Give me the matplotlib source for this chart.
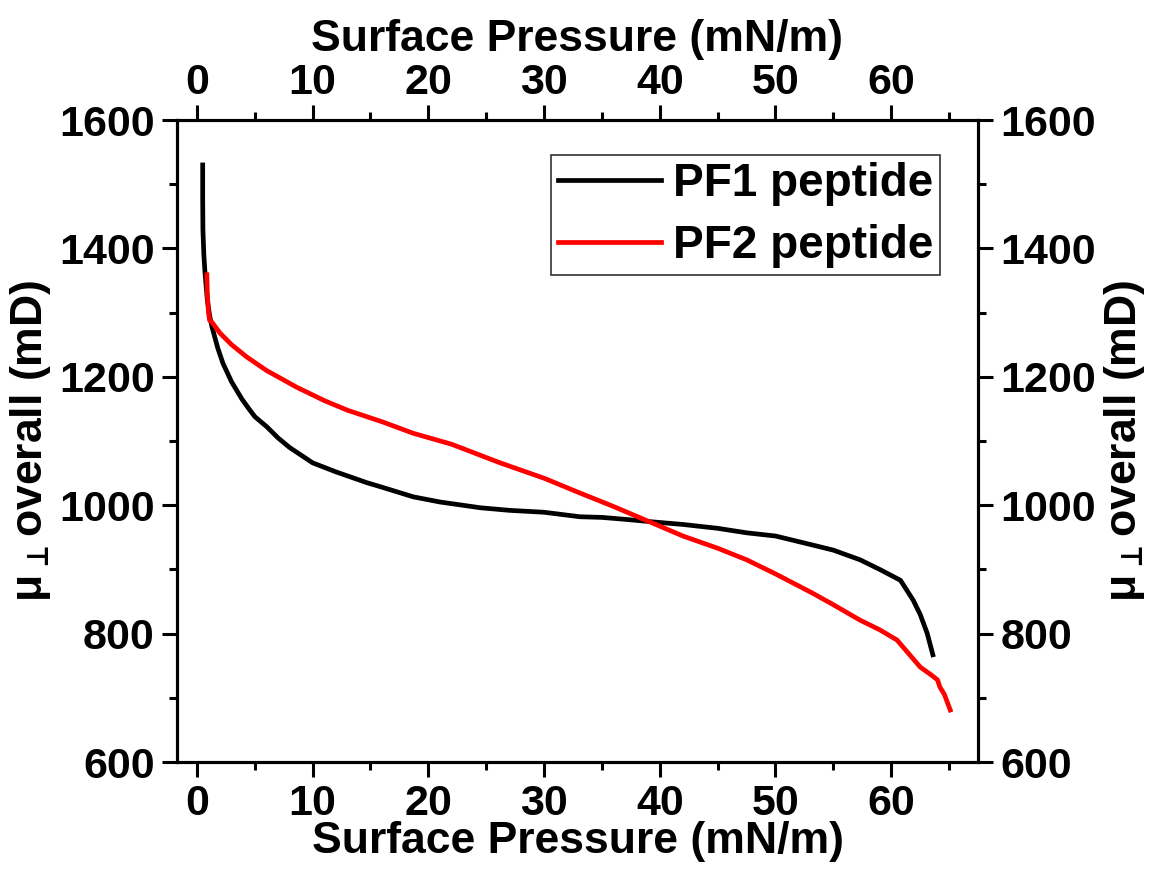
import matplotlib
matplotlib.use("Agg")
import matplotlib.pyplot as plt
from matplotlib.ticker import MultipleLocator

plt.rcParams['font.family'] = ['Liberation Sans', 'DejaVu Sans']
plt.rcParams['font.weight'] = 'bold'
plt.rcParams['mathtext.fontset'] = 'dejavusans'
plt.rcParams['mathtext.default'] = 'regular'

# PF1 peptide
pf1_x = [0.5, 0.5, 0.52, 0.6, 0.7, 0.9, 1.1, 1.3, 1.8, 2.25, 3.0, 3.9, 4.5, 5.0,
         6.05, 7.0, 8.0, 10.0, 12.0, 14.7, 16.0, 18.7, 21.0, 24.5, 27.0, 30.0,
         33.1, 35.0, 37.0, 39.4, 42.0, 45.0, 47.5, 50.0, 53.2, 55.0, 57.3, 59.0,
         60.8, 61.9, 62.5, 63.1, 63.6]
pf1_y = [1530, 1480, 1429, 1390, 1362, 1320, 1295, 1278, 1245, 1221, 1192, 1165,
         1150, 1138, 1122, 1105, 1090, 1066, 1052, 1035, 1028, 1013, 1005, 996,
         992, 989, 982, 981, 978, 974, 970, 964, 957, 952, 938, 930, 915, 900,
         883, 852, 830, 801, 767]

# PF2 peptide
pf2_x = [0.86, 0.9, 1.0, 1.1, 1.3, 2.0, 3.0, 4.3, 6.0, 8.6, 11.0, 13.0, 16.0,
         18.7, 22.0, 26.2, 30.0, 33.1, 36.0, 39.4, 42.0, 45.0, 47.5, 50.0, 53.2,
         55.0, 57.3, 59.0, 60.5, 62.5, 63.5, 64.0, 64.2, 64.6, 65.1]
pf2_y = [1359, 1330, 1300, 1288, 1285, 1268, 1250, 1231, 1210, 1184, 1163, 1148,
         1130, 1112, 1095, 1066, 1042, 1019, 998, 972, 952, 933, 915, 893, 863,
         845, 821, 806, 790, 748, 735, 728, 717, 705, 681]

series_labels = ["PF1 peptide", "PF2 peptide"]
x_label = "Surface Pressure (mN/m)"
y_label = "\u03bc$_{\\bot}$overall (mD)"
x_ticks = [0, 10, 20, 30, 40, 50, 60]
y_ticks = [600, 800, 1000, 1200, 1400, 1600]

TICK_FS = 31
LABEL_FS = 32
LEG_FS = 33

fig = plt.figure(figsize=(11.51, 8.69), dpi=100)
ax = fig.add_axes([177/1151, 1-762/869, (978-177)/1151, (762-120)/869])

ax.plot(pf1_x, pf1_y, color='black', lw=3.4, label=series_labels[0])
ax.plot(pf2_x, pf2_y, color='#ff0000', lw=3.4, label=series_labels[1])

xlim = (-1.72, 67.5)
ylim = (600, 1600)
ax.set_xlim(*xlim)
ax.set_ylim(*ylim)

ax.set_xticks(x_ticks)
ax.set_yticks(y_ticks)
ax.xaxis.set_minor_locator(MultipleLocator(5))
ax.yaxis.set_minor_locator(MultipleLocator(100))

ax2 = ax.twinx()
ax2.set_ylim(*ylim)
ax2.set_yticks(y_ticks)
ax2.yaxis.set_minor_locator(MultipleLocator(100))

ax3 = ax.twiny()
ax3.set_xlim(*xlim)
ax3.set_xticks(x_ticks)
ax3.xaxis.set_minor_locator(MultipleLocator(5))

for a in (ax, ax2, ax3):
    for s in a.spines.values():
        s.set_linewidth(2.2)
    a.tick_params(which='major', direction='out', length=11, width=2.2,
                  labelsize=TICK_FS, pad=5)
    a.tick_params(which='minor', direction='out', length=6, width=2.2)
    for lab in a.get_xticklabels() + a.get_yticklabels():
        lab.set_fontweight('bold')
ax3.tick_params(which='major', pad=1)

ax.set_xlabel(x_label, fontsize=LABEL_FS, fontweight='bold', labelpad=-2)
ax3.set_xlabel(x_label, fontsize=LABEL_FS, fontweight='bold', labelpad=9)
ax.set_ylabel(y_label, fontsize=LABEL_FS, fontweight='bold', labelpad=4)
ax2.set_ylabel(y_label, fontsize=LABEL_FS, fontweight='bold', labelpad=4,
               rotation=90)

leg = ax.legend(loc='upper right', bbox_to_anchor=(940/1151, 1-155/869),
                bbox_transform=fig.transFigure, fontsize=LEG_FS, frameon=True,
                fancybox=False, handlelength=2.25, handletextpad=0.26,
                borderpad=0.15, labelspacing=0.4, borderaxespad=0)
leg.get_frame().set_edgecolor('black')
leg.get_frame().set_linewidth(1.2)
for t in leg.get_texts():
    t.set_fontweight('bold')

fig.savefig("out.png", dpi=100)
